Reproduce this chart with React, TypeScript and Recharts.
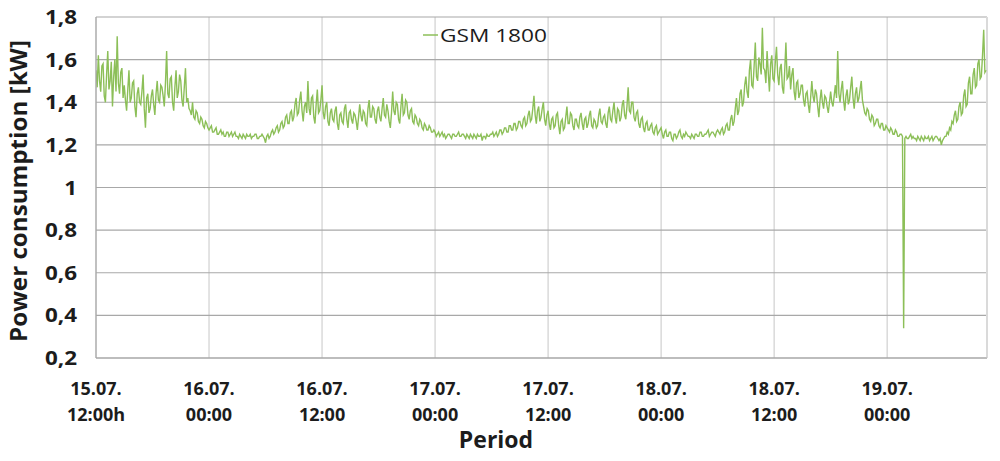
import React from 'react';
import { LineChart, Line, XAxis, YAxis, CartesianGrid, ReferenceLine } from 'recharts';

const seriesName = 'GSM 1800';
const yAxisTitle = 'Power consumption [kW]';
const xAxisTitle = 'Period';
const sampleStepHours = 0.125;

// Power consumption readings (kW), one every 7.5 minutes from 15.07. 12:00h (one row = 3 hours)
const powerKw = [
  1.55, 1.47, 1.62, 1.50, 1.45, 1.57, 1.58, 1.43, 1.40, 1.53, 1.64, 1.46, 1.50, 1.59, 1.38, 1.52, 1.60, 1.45, 1.71, 1.49, 1.44, 1.54, 1.56, 1.42,
  1.48, 1.41, 1.36, 1.46, 1.55, 1.40, 1.42, 1.49, 1.50, 1.38, 1.33, 1.44, 1.47, 1.40, 1.39, 1.45, 1.53, 1.37, 1.28, 1.42, 1.44, 1.35, 1.37, 1.43,
  1.46, 1.39, 1.34, 1.44, 1.50, 1.41, 1.40, 1.48, 1.47, 1.43, 1.38, 1.49, 1.64, 1.44, 1.42, 1.51, 1.52, 1.40, 1.36, 1.47, 1.55, 1.42, 1.45, 1.53,
  1.50, 1.41, 1.38, 1.47, 1.56, 1.40, 1.42, 1.37, 1.36, 1.34, 1.40, 1.33, 1.32, 1.36, 1.35, 1.31, 1.30, 1.33, 1.32, 1.29, 1.28, 1.31, 1.30, 1.28,
  1.27, 1.28, 1.29, 1.26, 1.26, 1.27, 1.28, 1.25, 1.25, 1.26, 1.27, 1.25, 1.26, 1.24, 1.24, 1.26, 1.26, 1.24, 1.25, 1.26, 1.24, 1.25, 1.26, 1.24,
  1.24, 1.23, 1.25, 1.24, 1.23, 1.25, 1.24, 1.23, 1.25, 1.24, 1.24, 1.25, 1.23, 1.24, 1.24, 1.25, 1.25, 1.23, 1.23, 1.24, 1.24, 1.25, 1.24, 1.23,
  1.21, 1.24, 1.25, 1.23, 1.24, 1.26, 1.27, 1.25, 1.26, 1.28, 1.29, 1.26, 1.27, 1.30, 1.31, 1.28, 1.29, 1.33, 1.34, 1.30, 1.30, 1.35, 1.36, 1.31,
  1.33, 1.39, 1.42, 1.34, 1.35, 1.41, 1.45, 1.36, 1.31, 1.38, 1.40, 1.35, 1.50, 1.37, 1.34, 1.42, 1.43, 1.33, 1.30, 1.39, 1.46, 1.35, 1.36, 1.41,
  1.48, 1.35, 1.32, 1.38, 1.40, 1.31, 1.29, 1.35, 1.37, 1.32, 1.31, 1.36, 1.38, 1.30, 1.27, 1.34, 1.35, 1.31, 1.30, 1.37, 1.39, 1.32, 1.28, 1.35,
  1.36, 1.32, 1.30, 1.35, 1.34, 1.31, 1.27, 1.33, 1.39, 1.34, 1.31, 1.36, 1.35, 1.30, 1.29, 1.37, 1.41, 1.33, 1.33, 1.38, 1.37, 1.32, 1.30, 1.36,
  1.38, 1.33, 1.31, 1.37, 1.42, 1.34, 1.33, 1.39, 1.36, 1.31, 1.28, 1.35, 1.45, 1.36, 1.34, 1.40, 1.39, 1.32, 1.30, 1.38, 1.44, 1.34, 1.35, 1.41,
  1.40, 1.34, 1.32, 1.36, 1.37, 1.31, 1.30, 1.34, 1.33, 1.30, 1.29, 1.32, 1.31, 1.28, 1.27, 1.30, 1.29, 1.27, 1.27, 1.29, 1.28, 1.26, 1.26, 1.27,
  1.26, 1.24, 1.25, 1.26, 1.24, 1.25, 1.26, 1.24, 1.25, 1.23, 1.24, 1.25, 1.25, 1.24, 1.23, 1.25, 1.25, 1.24, 1.24, 1.25, 1.26, 1.24, 1.24, 1.25,
  1.25, 1.24, 1.23, 1.25, 1.24, 1.23, 1.25, 1.24, 1.23, 1.25, 1.24, 1.23, 1.25, 1.24, 1.24, 1.25, 1.22, 1.24, 1.24, 1.23, 1.25, 1.24, 1.24, 1.25,
  1.25, 1.26, 1.24, 1.25, 1.26, 1.24, 1.25, 1.27, 1.27, 1.25, 1.26, 1.28, 1.28, 1.26, 1.26, 1.29, 1.29, 1.27, 1.27, 1.30, 1.30, 1.27, 1.28, 1.31,
  1.31, 1.29, 1.28, 1.32, 1.33, 1.29, 1.30, 1.34, 1.36, 1.31, 1.32, 1.37, 1.43, 1.34, 1.30, 1.36, 1.38, 1.31, 1.33, 1.37, 1.40, 1.32, 1.29, 1.34,
  1.36, 1.30, 1.27, 1.32, 1.33, 1.28, 1.29, 1.34, 1.35, 1.29, 1.25, 1.31, 1.32, 1.27, 1.28, 1.33, 1.38, 1.30, 1.30, 1.35, 1.34, 1.29, 1.27, 1.32,
  1.32, 1.29, 1.28, 1.33, 1.35, 1.30, 1.27, 1.32, 1.33, 1.28, 1.30, 1.34, 1.36, 1.29, 1.28, 1.32, 1.31, 1.28, 1.29, 1.34, 1.37, 1.31, 1.30, 1.33,
  1.34, 1.30, 1.28, 1.35, 1.38, 1.32, 1.31, 1.36, 1.40, 1.33, 1.30, 1.37, 1.36, 1.31, 1.33, 1.39, 1.41, 1.34, 1.32, 1.38, 1.47, 1.36, 1.35, 1.40,
  1.40, 1.33, 1.31, 1.35, 1.36, 1.30, 1.28, 1.32, 1.33, 1.28, 1.26, 1.30, 1.31, 1.27, 1.27, 1.29, 1.30, 1.26, 1.25, 1.28, 1.29, 1.25, 1.26, 1.27,
  1.28, 1.25, 1.23, 1.26, 1.27, 1.24, 1.24, 1.26, 1.26, 1.23, 1.22, 1.25, 1.25, 1.23, 1.24, 1.26, 1.27, 1.24, 1.23, 1.25, 1.24, 1.26, 1.25, 1.24,
  1.24, 1.23, 1.25, 1.24, 1.23, 1.25, 1.25, 1.24, 1.24, 1.26, 1.26, 1.24, 1.24, 1.25, 1.25, 1.26, 1.27, 1.24, 1.25, 1.26, 1.26, 1.25, 1.24, 1.26,
  1.27, 1.26, 1.25, 1.27, 1.28, 1.25, 1.26, 1.29, 1.30, 1.27, 1.27, 1.32, 1.34, 1.29, 1.31, 1.37, 1.42, 1.34, 1.36, 1.44, 1.46, 1.38, 1.40, 1.48,
  1.52, 1.45, 1.42, 1.55, 1.60, 1.48, 1.47, 1.57, 1.68, 1.52, 1.50, 1.61, 1.58, 1.53, 1.75, 1.56, 1.55, 1.49, 1.64, 1.54, 1.45, 1.58, 1.62, 1.51,
  1.50, 1.59, 1.66, 1.53, 1.48, 1.56, 1.58, 1.47, 1.44, 1.55, 1.68, 1.51, 1.52, 1.57, 1.46, 1.53, 1.56, 1.45, 1.41, 1.49, 1.50, 1.42, 1.44, 1.48,
  1.48, 1.41, 1.38, 1.44, 1.45, 1.39, 1.35, 1.42, 1.50, 1.43, 1.40, 1.46, 1.44, 1.38, 1.33, 1.41, 1.46, 1.40, 1.37, 1.43, 1.42, 1.38, 1.35, 1.40,
  1.45, 1.40, 1.38, 1.43, 1.48, 1.42, 1.64, 1.44, 1.40, 1.46, 1.50, 1.41, 1.36, 1.43, 1.46, 1.39, 1.41, 1.47, 1.52, 1.42, 1.37, 1.44, 1.47, 1.40,
  1.42, 1.46, 1.50, 1.41, 1.38, 1.35, 1.34, 1.37, 1.36, 1.32, 1.31, 1.34, 1.33, 1.29, 1.30, 1.32, 1.32, 1.29, 1.28, 1.30, 1.30, 1.27, 1.27, 1.29,
  1.28, 1.27, 1.26, 1.28, 1.27, 1.25, 1.25, 1.27, 1.26, 1.24, 1.24, 1.25, 1.25, 1.24, 0.34, 1.23, 1.24, 1.23, 1.23, 1.24, 1.25, 1.23, 1.24, 1.23,
  1.23, 1.22, 1.24, 1.23, 1.22, 1.24, 1.23, 1.22, 1.24, 1.23, 1.23, 1.24, 1.22, 1.23, 1.24, 1.22, 1.23, 1.24, 1.24, 1.23, 1.22, 1.23, 1.20, 1.22,
  1.23, 1.24, 1.24, 1.26, 1.25, 1.28, 1.27, 1.31, 1.30, 1.34, 1.36, 1.31, 1.32, 1.38, 1.40, 1.34, 1.35, 1.43, 1.46, 1.38, 1.39, 1.49, 1.52, 1.44,
  1.44, 1.53, 1.56, 1.47, 1.48, 1.58, 1.60, 1.51, 1.52, 1.62, 1.74, 1.54, 1.55,
];

const xTickHours = [0, 12, 24, 36, 48, 60, 72, 84];
const xTickDates = ['15.07.', '16.07.', '16.07.', '17.07.', '17.07.', '18.07.', '18.07.', '19.07.'];
const xTickTimes = ['12:00h', '00:00', '12:00', '00:00', '12:00', '00:00', '12:00', '00:00'];
const xDomainEnd = 94.6;

const yTicks = [0.2, 0.4, 0.6, 0.8, 1.0, 1.2, 1.4, 1.6, 1.8];
const yTickLabels = ['0,2', '0,4', '0,6', '0,8', '1', '1,2', '1,4', '1,6', '1,8'];

const data = powerKw.map((kw, i) => ({ t: i * sampleStepHours, kw }));

const FONT = '"Open Sans", "DejaVu Sans", sans-serif';
const TEXT_COLOR = '#1c1c1c';
const LINE_COLOR = '#8cbf58';

const XTick = (props: any) => {
  const { x, payload } = props;
  const idx = xTickHours.indexOf(payload.value);
  if (idx < 0) return null;
  return (
    <g>
      <text x={x} y={395} textAnchor="middle" fontFamily={FONT} fontWeight={700} fontSize={18} fill={TEXT_COLOR}>
        {xTickDates[idx]}
      </text>
      <text x={x} y={421} textAnchor="middle" fontFamily={FONT} fontWeight={700} fontSize={18} fill={TEXT_COLOR}>
        {xTickTimes[idx]}
      </text>
    </g>
  );
};

const YTick = (props: any) => {
  const { y, payload } = props;
  const idx = yTicks.findIndex((v) => Math.abs(v - payload.value) < 1e-6);
  if (idx < 0) return null;
  return (
    <g transform={`translate(77, ${y + 7}) scale(1.18, 1)`}>
      <text x={0} y={0} textAnchor="end" fontFamily={FONT} fontWeight={700} fontSize={19} fill={TEXT_COLOR}>
        {yTickLabels[idx]}
      </text>
    </g>
  );
};

const YTitle = () => (
  <text
    x={27}
    y={191}
    transform="rotate(-90, 27, 191)"
    textAnchor="middle"
    fontFamily={FONT}
    fontWeight={700}
    fontSize={23}
    fill={TEXT_COLOR}
    textLength={302}
    lengthAdjust="spacingAndGlyphs"
  >
    {yAxisTitle}
  </text>
);

const XTitle = () => (
  <text x={496} y={448} textAnchor="middle" fontFamily={FONT} fontWeight={700} fontSize={23} fill={TEXT_COLOR}>
    {xAxisTitle}
  </text>
);

export default function App() {
  return (
    <div style={{ position: 'absolute', left: 0, top: 0, width: 1000, height: 461, background: '#fff' }}>
      <LineChart width={1000} height={461} data={data} margin={{ top: 17, right: 13, bottom: 73, left: 36 }}>
        <CartesianGrid horizontal={false} stroke="#d0d0d0" strokeWidth={1.2} />
        <CartesianGrid vertical={false} stroke="#a8a8a8" strokeWidth={1.2} />
        <ReferenceLine x={xDomainEnd} stroke="#dadada" strokeWidth={2} />
        <XAxis
          type="number"
          dataKey="t"
          domain={[0, xDomainEnd]}
          ticks={xTickHours}
          interval={0}
          tick={<XTick />}
          tickLine={false}
          axisLine={{ stroke: '#a8a8a8', strokeWidth: 1.2 }}
          height={30}
          allowDataOverflow
          label={{ content: <XTitle /> } as any}
        />
        <YAxis
          type="number"
          domain={[0.2, 1.8]}
          ticks={yTicks}
          interval={0}
          tick={<YTick />}
          tickLine={false}
          axisLine={{ stroke: '#a8a8a8', strokeWidth: 1.2 }}
          width={60}
          allowDataOverflow
          label={{ content: <YTitle /> } as any}
        />
        <Line
          type="linear"
          dataKey="kw"
          name={seriesName}
          stroke={LINE_COLOR}
          strokeWidth={1.4}
          dot={false}
          activeDot={false}
          isAnimationActive={false}
        />
      </LineChart>
      <svg
        width={140}
        height={30}
        style={{ position: 'absolute', left: 418, top: 20, overflow: 'visible' }}
      >
        <line x1={5} y1={15} x2={20} y2={15} stroke={LINE_COLOR} strokeWidth={1.5} />
        <text
          x={22}
          y={21.5}
          fontFamily={FONT}
          fontSize={18}
          fill={TEXT_COLOR}
          textLength={107}
          lengthAdjust="spacingAndGlyphs"
        >
          {seriesName}
        </text>
      </svg>
    </div>
  );
}
